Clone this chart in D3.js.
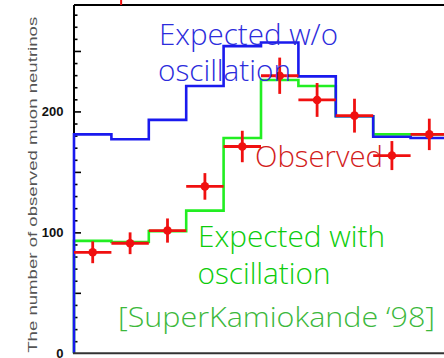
<!DOCTYPE html>
<html>
<head>
<meta charset="utf-8">
<script src="https://cdn.jsdelivr.net/npm/d3@7"></script>
<style>
  html, body { margin: 0; padding: 0; background: #fff; }
  svg { display: block; }
</style>
</head>
<body>
<svg id="chart" width="444" height="358"></svg>
<script>
// Muon-neutrino event counts per bin (10 equal-width bins)
const bins = [0, 1, 2, 3, 4, 5, 6, 7, 8, 9];
const expectedNoOsc = [181, 177, 193, 221, 254, 257, 229, 196, 179, 178];
const expectedOsc   = [93, 92, 101, 118, 178, 226, 221, 196, 181, 181];
const observed      = [83.5, 91, 101.5, 138, 171, 229.5, 209.5, 196.5, 163.5, 181];
const observedErr   = [9, 9, 10, 11, 13, 15, 14, 14, 12, 13];
const yTickLabels   = [0, 100, 200];
// bottom end of an error bar belonging to a point above the frame
const offFrameBar = { x: 1.26, y0: 288, y1: 296 };

const svg = d3.select("#chart");
const W = 444, H = 358;

const x = d3.scaleLinear().domain([0, 10]).range([74, 448]);
const y = d3.scaleLinear().domain([0, 288]).range([353.3, 5]);

// frame: top border and left axis
svg.append("line")
  .attr("x1", x(0)).attr("x2", W).attr("y1", y(288)).attr("y2", y(288))
  .attr("stroke", "#000").attr("stroke-width", 2);

// minor / major ticks pointing into the plot
const yAxis = d3.axisRight(y)
  .tickValues(d3.range(10, 290, 10))
  .tickSize(3)
  .tickFormat("");
const gAxis = svg.append("g").attr("transform", `translate(${x(0)},0)`).call(yAxis);
gAxis.select(".domain").remove();
gAxis.selectAll(".tick line")
  .attr("stroke", "#000")
  .attr("stroke-width", 1.6)
  .attr("x2", d => d % 50 === 0 ? 7 : 3.5);

svg.append("line")
  .attr("x1", x(0)).attr("x2", x(0)).attr("y1", y(288)).attr("y2", y(0))
  .attr("stroke", "#000").attr("stroke-width", 2);

// tick labels
svg.append("g").selectAll("text")
  .data(yTickLabels).join("text")
  .attr("x", 63.5).attr("y", d => y(d))
  .attr("dy", "0.36em")
  .attr("text-anchor", "end")
  .attr("font-family", "Liberation Sans, Arial, sans-serif")
  .attr("font-weight", "bold")
  .attr("font-size", 13)
  .attr("fill", "#111")
  .text(d => d);

// axis title
svg.append("text")
  .attr("transform", `translate(36.5, ${y(0) - 0.5}) rotate(-90)`)
  .attr("font-family", "Liberation Sans, Arial, sans-serif")
  .attr("font-size", 12)
  .attr("fill", "#555")
  .attr("textLength", 336)
  .attr("lengthAdjust", "spacingAndGlyphs")
  .text("The number of observed muon neutrinos");

// step outline of a histogram starting from zero
function stepPoints(vals) {
  const pts = [[0, 0]];
  vals.forEach((v, i) => { pts.push([bins[i], v]); pts.push([bins[i] + 1, v]); });
  return pts;
}
const line = d3.line().x(d => x(d[0])).y(d => y(d[1]));

svg.append("path")
  .attr("d", line(stepPoints(expectedOsc)))
  .attr("fill", "none").attr("stroke", "#22ee22").attr("stroke-width", 2.6);

svg.append("path")
  .attr("d", line(stepPoints(expectedNoOsc)))
  .attr("fill", "none").attr("stroke", "#1a1aee").attr("stroke-width", 2.6);

// bottom axis line
svg.append("line")
  .attr("x1", x(0) - 1).attr("x2", W).attr("y1", y(0)).attr("y2", y(0))
  .attr("stroke", "#333").attr("stroke-width", 2);

// observed points with bin-width bars and error bars
const gObs = svg.append("g").attr("stroke", "#f01010").attr("stroke-width", 2.8);
gObs.selectAll("line.h").data(bins).join("line").attr("class", "h")
  .attr("x1", d => x(d)).attr("x2", d => x(d + 1))
  .attr("y1", d => y(observed[d])).attr("y2", d => y(observed[d]));
gObs.selectAll("line.v").data(bins).join("line").attr("class", "v")
  .attr("x1", d => x(d + 0.5)).attr("x2", d => x(d + 0.5))
  .attr("y1", d => y(observed[d] - observedErr[d]))
  .attr("y2", d => y(observed[d] + observedErr[d]));
svg.append("g").selectAll("circle").data(bins).join("circle")
  .attr("cx", d => x(d + 0.5)).attr("cy", d => y(observed[d]))
  .attr("r", 4.3).attr("fill", "#f01010");
svg.append("line")
  .attr("x1", x(offFrameBar.x)).attr("x2", x(offFrameBar.x))
  .attr("y1", y(offFrameBar.y0)).attr("y2", y(offFrameBar.y1))
  .attr("stroke", "#f01010").attr("stroke-width", 2);

// annotations: each line is [text, x, baseline, width]
const font = "'Open Sans', 'Noto Sans', sans-serif";
function label(lines, size, color) {
  const t = svg.append("text")
    .attr("font-family", font).attr("font-size", size)
    .attr("font-weight", 300).attr("fill", color);
  lines.forEach(([s, x0, y0, w]) => t.append("tspan")
    .attr("x", x0).attr("y", y0)
    .attr("textLength", w).attr("lengthAdjust", "spacingAndGlyphs")
    .text(s));
}
label([["Expected w/o", 159, 45, 179], ["oscillation", 158, 80.5, 133]], 29, "#2c2cdc");
label([["Observed", 255, 167, 128]], 29, "#d21c1c");
label([["Expected with", 198, 247, 187], ["oscillation", 197.5, 284, 133]], 29, "#0ccc0c");
label([["[SuperKamiokande \u201898]", 118, 327, 317]], 27, "#3cb83c");
</script>
</body>
</html>
